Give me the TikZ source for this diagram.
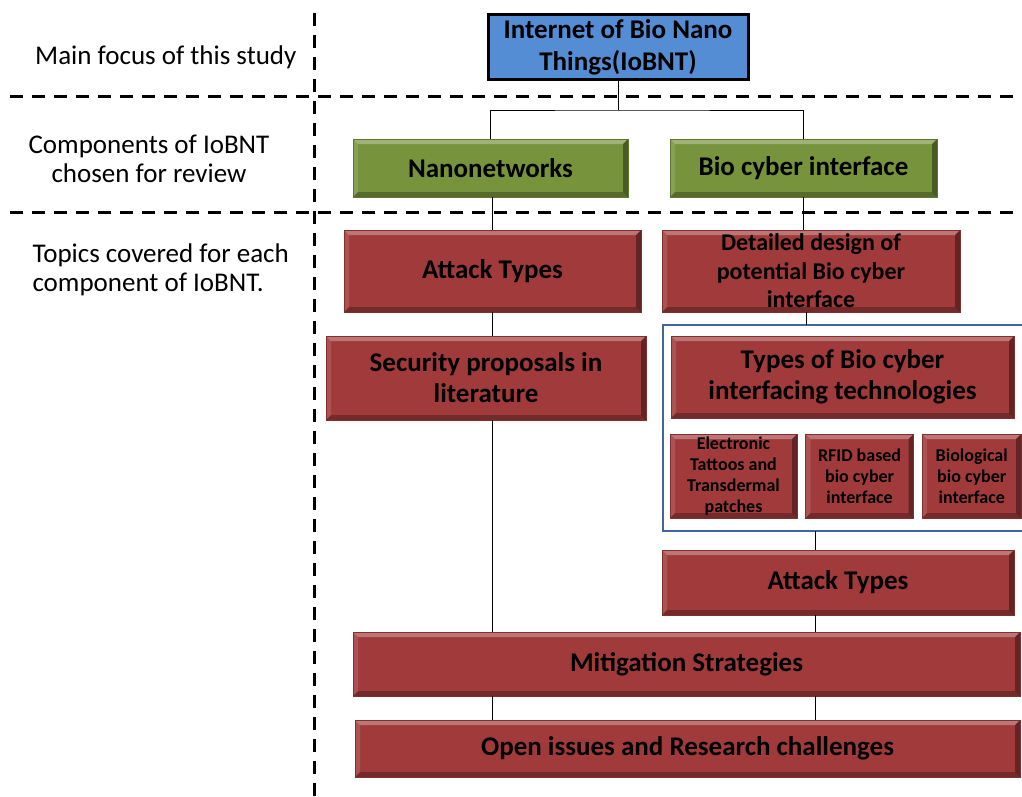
\documentclass[tikz,border=0pt]{standalone}
\usepackage{fontspec}
\setmainfont{Carlito}
\usetikzlibrary{positioning}
\definecolor{boxred}{RGB}{161,59,59}
\definecolor{boxgreen}{RGB}{119,147,60}
\definecolor{boxblue}{RGB}{84,141,212}
\definecolor{frameblue}{RGB}{65,102,158}
\tikzset{
  x = 1pt, y = -1pt,
  bevel/.style = {path picture = {
      \fill[white, opacity = .3] (path picture bounding box.north west) -- (path picture bounding box.north east)
        -- ([xshift = -5pt, yshift = -5pt]path picture bounding box.north east) -- ([xshift = 5pt, yshift = -5pt]path picture bounding box.north west) -- cycle;
      \fill[white, opacity = .12] (path picture bounding box.north west) -- (path picture bounding box.south west)
        -- ([xshift = 5pt, yshift = 5pt]path picture bounding box.south west) -- ([xshift = 5pt, yshift = -5pt]path picture bounding box.north west) -- cycle;
      \fill[black, opacity = .28] (path picture bounding box.south west) -- (path picture bounding box.south east)
        -- ([xshift = -5pt, yshift = 5pt]path picture bounding box.south east) -- ([xshift = 5pt, yshift = 5pt]path picture bounding box.south west) -- cycle;
      \fill[black, opacity = .38] (path picture bounding box.north east) -- (path picture bounding box.south east)
        -- ([xshift = -5pt, yshift = 5pt]path picture bounding box.south east) -- ([xshift = -5pt, yshift = -5pt]path picture bounding box.north east) -- cycle;
    }},
  topic/.style = {bevel, fill = boxred, draw = boxred!80!black, line width = .6pt, inner sep = 0pt,
    align = center, font = \fontsize{27}{31}\selectfont\bfseries},
  subtopic/.style = {topic, font = \fontsize{18}{21}\selectfont\bfseries, minimum height = 84pt},
  part/.style = {topic, fill = boxgreen, draw = boxgreen!80!black, minimum height = 58pt},
  root/.style = {fill = boxblue, draw = black, line width = 3pt, inner sep = 0pt, align = center,
    font = \fontsize{27}{32}\selectfont\bfseries},
  level/.style = {font = \fontsize{27}{29}\selectfont},
  divider/.style = {line width = 3pt, dash pattern = on 13pt off 9pt},
  link/.style = {draw, line width = .7pt}
}

\begin{document}
\begin{tikzpicture}
    \useasboundingbox (0,0) rectangle (1022,797);
    % left column
    \node [level, anchor = base east] (focus) at (300,65) {Main focus of this study};
    \node [level, align = center] (comp) at (149,159) {Components of IoBNT\\chosen for review};
    \node [level, align = left, anchor = west] (topics) at (29,270) {Topics covered for each\\component of IoBNT.};
    \draw [divider] (314,13) -- (314,797);
    \draw [divider] (10,97) -- (1022,97);
    \draw [divider] (10,212) -- (1022,212);
    % boxes
    \node [root, minimum width = 260pt, minimum height = 65pt] (iobnt) at (618,47) {Internet of Bio Nano\\Things(IoBNT)};
    \node [part, minimum width = 275pt] (nano) at (490.5,168) {Nanonetworks};
    \node [part, minimum width = 267pt] (bci) at (803.5,168) {Bio cyber interface};
    \node [topic, minimum width = 297pt, minimum height = 82pt] (atk1) at (492.5,271) {Attack Types};
    \node [topic, minimum width = 298pt, minimum height = 82pt, font = \fontsize{24}{28.5}\selectfont\bfseries] (design) at (811,271) {Detailed design of\\potential Bio cyber\\interface};
    \node [topic, minimum width = 320pt, minimum height = 84pt] (sec) at (486,378) {Security proposals in\\literature};
    \node [topic, minimum width = 343pt, minimum height = 82pt] (types) at (842.5,377) {Types of Bio cyber\\interfacing technologies};
    \node [subtopic, minimum width = 127pt] (tat) at (733.5,476) {Electronic\\Tattoos and\\Transdermal\\patches};
    \node [subtopic, minimum width = 108pt, right = 8 of tat] (rfid) {RFID based\\bio cyber\\interface};
    \node [subtopic, minimum width = 99pt, right = 8 of rfid] (bio) {Biological\\bio cyber\\interface};
    \node [topic, minimum width = 352pt, minimum height = 65pt] (atk2) at (838,582.5) {Attack Types};
    \node [topic, minimum width = 667pt, minimum height = 64pt] (mit) at (686.5,664) {Mitigation Strategies};
    \node [topic, minimum width = 665pt, minimum height = 57pt] (open) at (687.5,748.5) {Open issues and Research challenges};
    % frame round the technologies
    \coordinate (ftop) at (806,325);
    \coordinate (fbot) at (815,531);
    \draw [frameblue, line width = 2.5pt] (1024,325) -- (663,325) -- (663,531) -- (1024,531);
    % paths
    \coordinate (split) at (iobnt.south |- 0,110);
    \draw [link] (iobnt.south) -- (split);
    \draw [link] (nano.north) |- (split) -| (bci.north);
    \draw [link] (nano.south -| atk1) -- (atk1.north);
    \draw [link] (bci.south) -- (bci.south |- design.north);
    \draw [link] (atk1.south) -- (atk1.south |- sec.north);
    \draw [link] (sec.south -| atk1) -- (mit.north -| atk1);
    \draw [link] (design.south -| ftop) -- (ftop);
    \draw [link] (fbot) -- (atk2.north -| fbot);
    \draw [link] (atk2.south -| fbot) -- (mit.north -| fbot);
    \draw [link] (mit.south -| atk1) -- (open.north -| atk1);
    \draw [link] (mit.south -| fbot) -- (open.north -| fbot);
\end{tikzpicture}
\end{document}
